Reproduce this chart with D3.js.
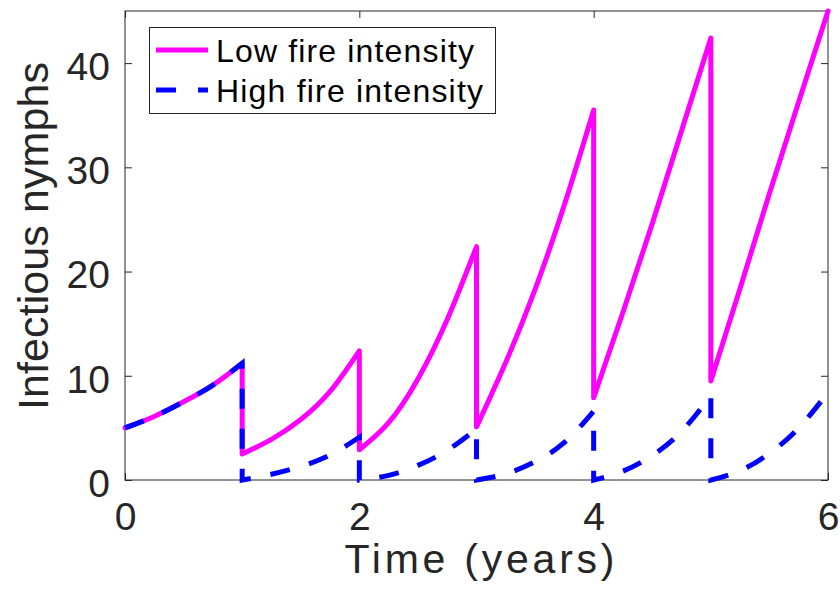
<!DOCTYPE html>
<html>
<head>
<meta charset="utf-8">
<script src="https://cdn.jsdelivr.net/npm/d3@7"></script>
<style>
  body { margin: 0; background: #fff; }
  svg { display: block; }
  text { font-family: "Liberation Sans", Arial, Helvetica, sans-serif; }
</style>
</head>
<body>
<div id="chart"></div>
<script>
// Sample positions inside each one-year interval (fraction of the year)
const yearOffsets = [0, 0.25, 0.5, 0.75, 1];

// Infectious nymphs, one row per year (k -> k+1)
const lowFire = [
    [5.0, 6.1, 7.5, 9.1, 11.2],
    [2.5, 3.9, 5.8, 8.5, 12.4],
    [2.9, 5.5, 9.7, 15.4, 22.4],
    [5.1, 11.3, 18.3, 26.4, 35.5],
    [7.9, 16.1, 24.6, 33.5, 42.4],
    [9.5, 18.4, 27.5, 36.3, 45.0]
];
const highFire = [
    [5.0, 6.1, 7.5, 9.1, 11.2],
    [0, 0.55, 1.3, 2.4, 4.1],
    [0, 0.45, 1.4, 2.85, 4.9],
    [0, 0.6, 1.75, 3.6, 6.6],
    [0, 0.85, 2.35, 4.65, 8.1],
    [0, 0.9, 2.55, 5.0, 8.4]
];

const xTicks = [0, 2, 4, 6];
const yTicks = [0, 10, 20, 30, 40];
const seriesNames = ["Low fire intensity", "High fire intensity"];

const W = 840, H = 595;
const plot = { left: 125, top: 11, right: 828, bottom: 480 };
const axisColor = "#262626";
const tickLen = 7;

const svg = d3.select("#chart").append("svg")
    .attr("width", W)
    .attr("height", H);

svg.append("rect").attr("width", W).attr("height", H).attr("fill", "#fff");

// Scales
const x = d3.scaleLinear().domain([0, 6]).range([plot.left, plot.right]);
const y = d3.scaleLinear().domain([0, 45]).range([plot.bottom, plot.top]);

// Axes (ticks pointing inward, box on)
function styleAxis(g) {
    g.select(".domain").remove();
    g.selectAll(".tick line").attr("stroke", axisColor);
    g.selectAll(".tick text")
        .attr("fill", axisColor)
        .attr("font-size", "39px")
        .attr("font-family", "'Liberation Sans', Arial, Helvetica, sans-serif");
}

svg.append("g")
    .attr("transform", `translate(0,${plot.bottom})`)
    .call(d3.axisBottom(x).tickValues(xTicks).tickFormat(d3.format("d"))
        .tickSizeInner(-tickLen).tickSizeOuter(0).tickPadding(22))
    .call(styleAxis);

svg.append("g")
    .attr("transform", `translate(0,${plot.top})`)
    .call(d3.axisTop(x).tickValues(xTicks).tickSizeInner(-tickLen).tickSizeOuter(0).tickFormat(""))
    .call(styleAxis);

svg.append("g")
    .attr("transform", `translate(${plot.left},0)`)
    .call(d3.axisLeft(y).tickValues(yTicks).tickSizeInner(-tickLen).tickSizeOuter(0).tickPadding(15))
    .call(styleAxis)
    .selectAll(".tick text").attr("dy", "0.42em");

svg.append("g")
    .attr("transform", `translate(${plot.right},0)`)
    .call(d3.axisRight(y).tickValues(yTicks).tickSizeInner(-tickLen).tickSizeOuter(0).tickFormat(""))
    .call(styleAxis);

// Axes box
svg.append("rect")
    .attr("x", plot.left)
    .attr("y", plot.top)
    .attr("width", plot.right - plot.left)
    .attr("height", plot.bottom - plot.top)
    .attr("fill", "none")
    .attr("stroke", axisColor)
    .attr("stroke-width", 1);

// Axis labels
svg.append("text")
    .attr("x", (plot.left + plot.right) / 2 + 3)
    .attr("y", 573)
    .attr("text-anchor", "middle")
    .attr("font-size", "41px")
    .attr("fill", axisColor)
    .attr("textLength", 270)
    .attr("lengthAdjust", "spacing")
    .text("Time (years)");

svg.append("text")
    .attr("transform", "translate(48,236) rotate(-90)")
    .attr("text-anchor", "middle")
    .attr("font-size", "43px")
    .attr("fill", axisColor)
    .attr("textLength", 348)
    .attr("lengthAdjust", "spacing")
    .text("Infectious nymphs");

// Line generator; each yearly piece is smooth, pieces are joined by vertical drops
const line = d3.line()
    .x(d => x(d[0]))
    .y(d => y(d[1]))
    .curve(d3.curveNatural);

function seriesPath(segments) {
    return segments.map((vals, k) => {
        const pts = vals.map((v, i) => [k + yearOffsets[i], v]);
        const d = line(pts);
        return k === 0 ? d : "L" + d.slice(1);
    }).join("");
}

svg.append("path")
    .attr("d", seriesPath(lowFire))
    .attr("fill", "none")
    .attr("stroke", "#ff00ff")
    .attr("stroke-width", 5)
    .attr("stroke-linejoin", "round")
    .attr("stroke-linecap", "round");

svg.append("path")
    .attr("d", seriesPath(highFire))
    .attr("fill", "none")
    .attr("stroke", "#0000ff")
    .attr("stroke-width", 5)
    .attr("stroke-dasharray", "20 20");

// Legend
const legend = svg.append("g");
legend.append("rect")
    .attr("x", 149.5)
    .attr("y", 27.5)
    .attr("width", 346)
    .attr("height", 86)
    .attr("fill", "#fff")
    .attr("stroke", axisColor)
    .attr("stroke-width", 1);

const legendStyles = [
    { color: "#ff00ff", dash: null, y: 50, len: 258 },
    { color: "#0000ff", dash: "20 22", y: 90, len: 267 }
];

seriesNames.forEach((name, i) => {
    const s = legendStyles[i];
    legend.append("line")
        .attr("x1", 156)
        .attr("x2", 208)
        .attr("y1", s.y)
        .attr("y2", s.y)
        .attr("stroke", s.color)
        .attr("stroke-width", 5)
        .attr("stroke-dasharray", s.dash);

    legend.append("text")
        .attr("x", 216)
        .attr("y", s.y + 12)
        .attr("font-size", "32px")
        .attr("fill", "#000")
        .attr("textLength", s.len)
        .attr("lengthAdjust", "spacing")
        .text(name);
});
</script>
</body>
</html>
